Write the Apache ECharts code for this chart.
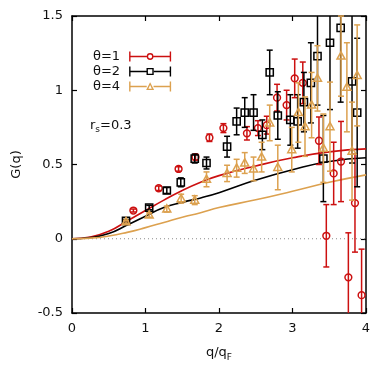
<!DOCTYPE html>
<html>
<head>
<meta charset="utf-8">
<script src="https://cdn.jsdelivr.net/npm/echarts@6/dist/echarts.min.js"></script>
<style>html,body{margin:0;background:#fff}#chart{width:390px;height:379px}</style>
</head>
<body>
<div id="chart"></div>
<script>
// theta = 1 (red circles)
const q1 = [0.835, 1.18, 1.45, 1.68, 1.87, 2.06, 2.38, 2.53, 2.65, 2.79, 2.92, 3.03, 3.14, 3.36, 3.46, 3.56, 3.66, 3.76, 3.85, 3.94];
const g1 = [0.19, 0.34, 0.47, 0.55, 0.68, 0.745, 0.71, 0.745, 0.765, 0.95, 0.90, 1.08, 1.05, 0.66, 0.02, 0.44, 0.52, -0.26, 0.24, -0.38];
const e1 = [0.01, 0.015, 0.015, 0.02, 0.025, 0.03, 0.045, 0.05, 0.06, 0.09, 0.1, 0.13, 0.14, 0.16, 0.21, 0.21, 0.27, 0.3, 0.33, 0.31];
// theta = 2 (black squares)
const q2 = [0.735, 1.05, 1.29, 1.48, 1.67, 1.83, 2.11, 2.24, 2.35, 2.47, 2.59, 2.69, 2.80, 2.97, 3.07, 3.155, 3.25, 3.34, 3.42, 3.51, 3.655, 3.81, 3.88];
const g2 = [0.12, 0.21, 0.325, 0.38, 0.54, 0.51, 0.62, 0.79, 0.85, 0.85, 0.70, 1.12, 0.83, 0.80, 0.79, 0.92, 1.05, 1.23, 0.54, 1.32, 1.42, 1.06, 0.85];
const e2 = [0.01, 0.015, 0.02, 0.03, 0.03, 0.04, 0.07, 0.09, 0.1, 0.12, 0.1, 0.15, 0.16, 0.17, 0.18, 0.2, 0.27, 0.33, 0.29, 0.45, 0.5, 0.55, 0.5];
// theta = 4 (gold triangles)
const q4 = [0.735, 1.05, 1.29, 1.485, 1.67, 1.83, 2.11, 2.24, 2.35, 2.47, 2.58, 2.69, 2.80, 2.99, 3.08, 3.17, 3.26, 3.34, 3.42, 3.51, 3.66, 3.74, 3.81, 3.88];
const g4 = [0.115, 0.16, 0.2, 0.27, 0.26, 0.40, 0.44, 0.475, 0.51, 0.47, 0.55, 0.78, 0.48, 0.60, 0.85, 0.755, 0.90, 1.08, 0.61, 0.755, 1.23, 1.02, 0.59, 1.10];
const e4 = [0.01, 0.015, 0.02, 0.03, 0.03, 0.05, 0.055, 0.06, 0.07, 0.08, 0.1, 0.12, 0.15, 0.15, 0.2, 0.2, 0.22, 0.22, 0.23, 0.3, 0.27, 0.3, 0.33, 0.34];

// model curves
const curveQ = [0, 0.25, 0.5, 0.75, 1, 1.25, 1.5, 1.75, 2, 2.5, 3, 3.5, 4];
const curve1 = [0, 0.012, 0.05, 0.12, 0.19, 0.26, 0.325, 0.38, 0.425, 0.49, 0.545, 0.585, 0.605];
const curve2 = [0, 0.008, 0.035, 0.092, 0.152, 0.21, 0.245, 0.275, 0.31, 0.395, 0.465, 0.52, 0.545];
const curve4 = [0, 0.004, 0.018, 0.043, 0.075, 0.11, 0.145, 0.175, 0.21, 0.262, 0.32, 0.38, 0.43];

const RED = '#cc1010', BLACK = '#000000', GOLD = '#dca14f';
const FONT = 'DejaVu Sans';

function errSeries(name, q, g, e, color, marker) {
  return {
    name, type: 'custom', z: 3,
    encode: { x: 0, y: [1, 2, 3] },
    data: q.map((x, i) => [x, g[i], g[i] - e[i], g[i] + e[i]]),
    renderItem(params, api) {
      const c = api.coord([api.value(0), api.value(1)]);
      const lo = api.coord([api.value(0), api.value(2)]);
      const hi = api.coord([api.value(0), api.value(3)]);
      const cs = params.coordSys;
      const top = cs.y, bottom = cs.y + cs.height;
      const x = c[0], st = { stroke: color, lineWidth: 1.5, fill: null };
      const kids = [{ type: 'line', shape: { x1: x, y1: Math.min(lo[1], bottom), x2: x, y2: Math.max(hi[1], top) }, style: st }];
      if (lo[1] <= bottom) kids.push({ type: 'line', shape: { x1: x - 3, y1: lo[1], x2: x + 3, y2: lo[1] }, style: st });
      if (hi[1] >= top) kids.push({ type: 'line', shape: { x1: x - 3, y1: hi[1], x2: x + 3, y2: hi[1] }, style: st });
      if (c[1] >= top && c[1] <= bottom) {
        if (marker === 'circle') kids.push({ type: 'circle', shape: { cx: x, cy: c[1], r: 3.4 }, style: st });
        else if (marker === 'square') kids.push({ type: 'rect', shape: { x: x - 3.6, y: c[1] - 3.6, width: 7.2, height: 7.2 }, style: st });
        else kids.push({ type: 'polygon', shape: { points: [[x, c[1] - 4.3], [x + 4, c[1] + 3], [x - 4, c[1] + 3]] }, style: st });
      }
      return { type: 'group', children: kids };
    }
  };
}

function curveSeries(vals, color) {
  return {
    type: 'line', z: 2, smooth: true, symbol: 'none', silent: true,
    data: curveQ.map((x, i) => [x, vals[i]]),
    lineStyle: { color, width: 1.6 }
  };
}

const capL = 'M0 0H1.4V4.3H17.6V5.7H1.4V10H0Z';
const capR = 'M42 0H40.6V4.3H24.4V5.7H40.6V10H42Z';
const iconCircle = 'path://' + capL + capR +
  'M24.4 5A3.4 3.4 0 1 0 17.6 5A3.4 3.4 0 1 0 24.4 5ZM23 5A2 2 0 1 1 19 5A2 2 0 1 1 23 5Z';
const iconSquare = 'path://' + capL + capR +
  'M17.4 1.4H24.6V8.6H17.4ZM18.8 2.8V7.2H23.2V2.8Z';
const iconTri = 'path://' + capL + capR +
  'M21 0.7L25 8.6H17ZM21 3.4L19.3 7.2H22.7Z';

const chart = echarts.init(document.getElementById('chart'));
const axisCommon = {
  type: 'value',
  axisLine: { show: true, onZero: false, lineStyle: { color: '#000', width: 1.5 } },
  axisTick: { show: true, inside: true, length: 5, lineStyle: { color: '#000', width: 1.2 } },
  splitLine: { show: false }
};

chart.setOption({
  animation: false,
  textStyle: { fontFamily: FONT },
  grid: { left: 72, right: 24, top: 16, bottom: 66 },
  legend: {
    orient: 'vertical', left: 88, top: 45, align: 'right',
    itemWidth: 42, itemHeight: 10, itemGap: 2,
    textStyle: { fontFamily: FONT, fontSize: 13, color: '#111', padding: [0, 4, 0, 0] },
    data: [
      { name: 'θ=1', icon: iconCircle, itemStyle: { color: RED, borderWidth: 0 } },
      { name: 'θ=2', icon: iconSquare, itemStyle: { color: BLACK, borderWidth: 0 } },
      { name: 'θ=4', icon: iconTri, itemStyle: { color: GOLD, borderWidth: 0 } }
    ]
  },
  graphic: [{
    type: 'text', left: 90, top: 119,
    style: {
      text: '{a|r}{b|s}{a|=0.3}',
      rich: {
        a: { fontFamily: FONT, fontSize: 13, fill: '#111', lineHeight: 18, verticalAlign: 'middle' },
        b: { fontFamily: FONT, fontSize: 9, fill: '#111', lineHeight: 18, verticalAlign: 'bottom' }
      }
    }
  }],
  xAxis: [
    Object.assign({}, axisCommon, {
      min: 0, max: 4, interval: 1, position: 'bottom',
      axisLabel: { color: '#111', fontSize: 13, margin: 9 },
      name: '{a|q/q}{b|F}', nameLocation: 'middle', nameGap: 31,
      nameTextStyle: {
        rich: {
          a: { fontFamily: FONT, fontSize: 13, color: '#111', lineHeight: 18, verticalAlign: 'middle' },
          b: { fontFamily: FONT, fontSize: 9, color: '#111', lineHeight: 18, verticalAlign: 'bottom' }
        }
      }
    }),
    Object.assign({}, axisCommon, { min: 0, max: 4, interval: 1, position: 'top', axisLabel: { show: false } })
  ],
  yAxis: [
    Object.assign({}, axisCommon, {
      min: -0.5, max: 1.5, interval: 0.5, position: 'left',
      axisLabel: { color: '#111', fontSize: 13, margin: 9 },
      name: 'G(q)', nameLocation: 'middle', nameRotate: 90, nameGap: 49,
      nameTextStyle: { fontFamily: FONT, fontSize: 13, color: '#111' }
    }),
    Object.assign({}, axisCommon, { min: -0.5, max: 1.5, interval: 0.5, position: 'right', axisLabel: { show: false } })
  ],
  series: [
    {
      type: 'line', z: 1, symbol: 'none', silent: true,
      data: [[0, 0], [4, 0]],
      lineStyle: { color: '#8a8a8a', width: 1, type: [1, 3] }
    },
    curveSeries(curve1, RED),
    curveSeries(curve2, BLACK),
    curveSeries(curve4, GOLD),
    errSeries('θ=1', q1, g1, e1, RED, 'circle'),
    errSeries('θ=2', q2, g2, e2, BLACK, 'square'),
    errSeries('θ=4', q4, g4, e4, GOLD, 'triangle')
  ]
});
</script>
</body>
</html>
